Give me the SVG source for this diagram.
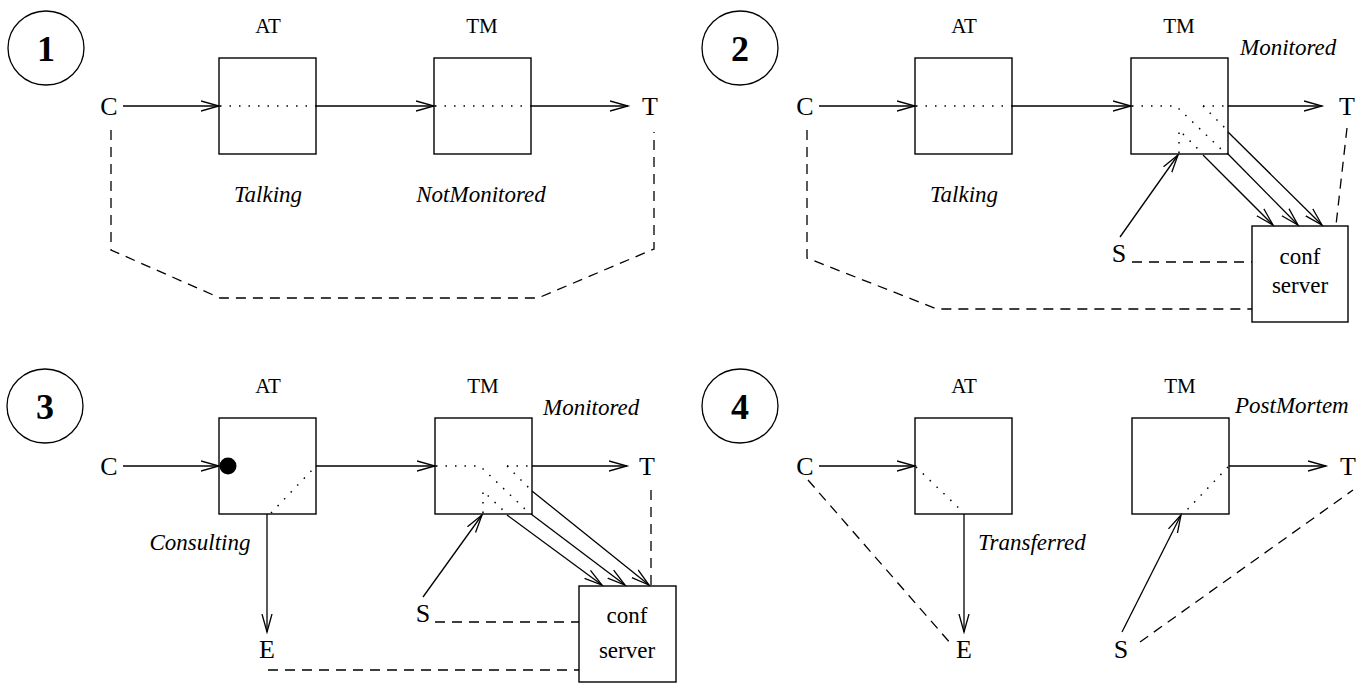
<svg xmlns="http://www.w3.org/2000/svg" width="1364" height="686" viewBox="0 0 1364 686">
<defs>
<style>
.bg{fill:#fff}
.box{fill:#fff;stroke:#000;stroke-width:1.4}
.ln{fill:none;stroke:#000;stroke-width:1.3}
.arr{fill:none;stroke:#000;stroke-width:1.3;marker-end:url(#ah)}
.dash{fill:none;stroke:#000;stroke-width:1.3;stroke-dasharray:10 7}
.dot{fill:none;stroke:#000;stroke-width:1.5;stroke-dasharray:1.5 8}
.num{font-family:"Liberation Serif",serif;font-size:36px;font-weight:bold;text-anchor:middle}
.ent{font-family:"Liberation Serif",serif;font-size:26px;text-anchor:middle}
.lbl{font-family:"Liberation Serif",serif;font-size:21px;text-anchor:middle}
.st{font-family:"Liberation Serif",serif;font-size:23px;font-style:italic}
.cs{font-family:"Liberation Serif",serif;font-size:23px;text-anchor:middle}
</style>
<marker id="ah" markerUnits="userSpaceOnUse" viewBox="0 0 22 14" markerWidth="22" markerHeight="14" refX="18" refY="7" orient="auto">
<path d="M0,2 L18,7 L0,12" fill="none" stroke="#000" stroke-width="1.3"/>
</marker>
</defs>
<rect class="bg" x="0" y="0" width="1364" height="686"/>

<!-- Panel 1 -->
<g id="p1-num"><ellipse class="ln" cx="46" cy="48" rx="38" ry="37"/><text class="num" x="46" y="61">1</text></g>
<g id="p1-AT"><rect class="box" x="219" y="58" width="97" height="96"/><text class="lbl" x="268" y="33">AT</text><text class="st" x="268" y="202" text-anchor="middle">Talking</text></g>
<g id="p1-TM"><rect class="box" x="434" y="58" width="97" height="96"/><text class="lbl" x="482" y="33">TM</text><text class="st" x="481" y="202" text-anchor="middle">NotMonitored</text></g>
<g id="p1-C"><text class="ent" x="109" y="115">C</text></g>
<g id="p1-T"><text class="ent" x="650" y="115">T</text></g>

<!-- Panel 2 -->
<g id="p2-num"><ellipse class="ln" cx="740" cy="48" rx="38" ry="37"/><text class="num" x="740" y="61">2</text></g>
<g id="p2-AT"><rect class="box" x="915" y="58" width="97" height="96"/><text class="lbl" x="964" y="33">AT</text><text class="st" x="964" y="202" text-anchor="middle">Talking</text></g>
<g id="p2-TM"><rect class="box" x="1131" y="58" width="97" height="96"/><text class="lbl" x="1179" y="33">TM</text><text class="st" x="1240" y="55">Monitored</text></g>
<g id="p2-C"><text class="ent" x="805" y="115">C</text></g>
<g id="p2-T"><text class="ent" x="1347" y="115">T</text></g>
<g id="p2-S"><text class="ent" x="1119" y="262">S</text></g>
<g id="p2-conf"><rect class="box" x="1252" y="226" width="96" height="96"/><text class="cs" x="1300" y="264">conf</text><text class="cs" x="1300" y="293">server</text></g>

<!-- Panel 3 -->
<g id="p3-num"><ellipse class="ln" cx="45" cy="406" rx="38" ry="37"/><text class="num" x="45" y="419">3</text></g>
<g id="p3-AT"><rect class="box" x="219" y="418" width="97" height="96"/><text class="lbl" x="268" y="393">AT</text><circle cx="228" cy="466" r="8.5" fill="#000"/><text class="st" x="200" y="550" text-anchor="middle">Consulting</text></g>
<g id="p3-TM"><rect class="box" x="435" y="418" width="97" height="96"/><text class="lbl" x="483" y="393">TM</text><text class="st" x="543" y="415">Monitored</text></g>
<g id="p3-C"><text class="ent" x="109" y="475">C</text></g>
<g id="p3-T"><text class="ent" x="647" y="475">T</text></g>
<g id="p3-S"><text class="ent" x="423" y="622">S</text></g>
<g id="p3-E"><text class="ent" x="267" y="658">E</text></g>
<g id="p3-conf"><rect class="box" x="579" y="586" width="97" height="96"/><text class="cs" x="627" y="623">conf</text><text class="cs" x="627" y="658">server</text></g>

<!-- Panel 4 -->
<g id="p4-num"><ellipse class="ln" cx="740" cy="406" rx="38" ry="37"/><text class="num" x="740" y="419">4</text></g>
<g id="p4-AT"><rect class="box" x="915" y="418" width="97" height="96"/><text class="lbl" x="964" y="393">AT</text><text class="st" x="978" y="550">Transferred</text></g>
<g id="p4-TM"><rect class="box" x="1132" y="418" width="97" height="96"/><text class="lbl" x="1180" y="393">TM</text><text class="st" x="1235" y="413">PostMortem</text></g>
<g id="p4-C"><text class="ent" x="805" y="475">C</text></g>
<g id="p4-T"><text class="ent" x="1348" y="475">T</text></g>
<g id="p4-S"><text class="ent" x="1121" y="658">S</text></g>
<g id="p4-E"><text class="ent" x="964" y="658">E</text></g>

<g id="connectors">
<!-- panel 1 -->
<line class="arr" x1="123" y1="106" x2="219" y2="106"/>
<line class="dot" x1="220" y1="106" x2="316" y2="106"/>
<line class="arr" x1="316" y1="106" x2="434" y2="106"/>
<line class="dot" x1="435" y1="106" x2="531" y2="106"/>
<line class="arr" x1="531" y1="106" x2="628" y2="106"/>
<path class="dash" d="M111,130 L111,250 L220,298 L538,298 L654,249 L654,132"/>

<!-- panel 2 -->
<line class="arr" x1="819" y1="106" x2="915" y2="106"/>
<line class="dot" x1="916" y1="106" x2="1012" y2="106"/>
<line class="arr" x1="1012" y1="106" x2="1131" y2="106"/>
<path class="dot" d="M1132,106 L1176,106 L1224,152"/>
<path class="dot" d="M1203,106 L1227,106"/>
<path class="dot" d="M1203,106 L1227,130"/>
<path class="dot" d="M1179,153 L1179,130 L1202,153"/>
<line class="arr" x1="1228" y1="106" x2="1322" y2="106"/>
<line class="arr" x1="1203" y1="155" x2="1273" y2="225"/>
<line class="arr" x1="1227" y1="153" x2="1298" y2="225"/>
<line class="arr" x1="1228" y1="132" x2="1322" y2="225"/>
<line class="arr" x1="1120" y1="237" x2="1178" y2="155"/>
<line class="dash" x1="1347" y1="128" x2="1336" y2="225"/>
<line class="dash" x1="1132" y1="262" x2="1252" y2="262"/>
<path class="dash" d="M807,130 L807,258 L937,309 L1252,309"/>

<!-- panel 3 -->
<line class="arr" x1="123" y1="466" x2="219" y2="466"/>
<line class="dot" x1="271" y1="513" x2="315" y2="467"/>
<line class="arr" x1="316" y1="466" x2="435" y2="466"/>
<line class="arr" x1="267" y1="514" x2="267" y2="632"/>
<path class="dot" d="M436,466 L480,466 L527,511"/>
<path class="dot" d="M507,466 L531,466"/>
<path class="dot" d="M507,466 L531,490"/>
<path class="dot" d="M483,513 L483,491 L506,513"/>
<line class="arr" x1="532" y1="466" x2="627" y2="466"/>
<line class="arr" x1="507" y1="515" x2="602" y2="585"/>
<line class="arr" x1="531" y1="514" x2="625" y2="585"/>
<line class="arr" x1="532" y1="491" x2="649" y2="585"/>
<line class="arr" x1="423" y1="597" x2="482" y2="515"/>
<line class="dash" x1="651" y1="490" x2="651" y2="585"/>
<line class="dash" x1="435" y1="622" x2="579" y2="622"/>
<line class="dash" x1="268" y1="670" x2="579" y2="670"/>

<!-- panel 4 -->
<line class="arr" x1="819" y1="466" x2="915" y2="466"/>
<line class="dot" x1="916" y1="467" x2="963" y2="512"/>
<line class="arr" x1="964" y1="514" x2="964" y2="632"/>
<line class="dot" x1="1228" y1="467" x2="1184" y2="513"/>
<line class="arr" x1="1229" y1="466" x2="1326" y2="466"/>
<line class="arr" x1="1122" y1="632" x2="1181" y2="515"/>
<line class="dash" x1="808" y1="480" x2="952" y2="645"/>
<line class="dash" x1="1140" y1="642" x2="1353" y2="490"/>
</g>
</svg>
